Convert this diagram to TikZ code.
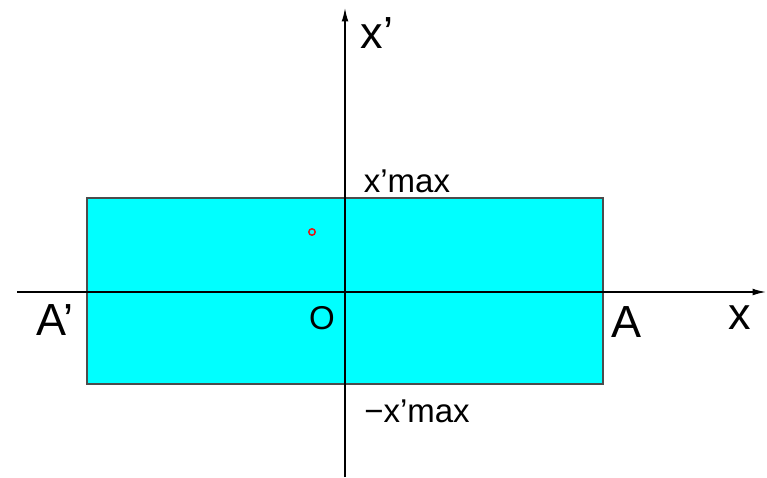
\documentclass[tikz,border=0pt]{standalone}
\usepackage{fontspec}
\setmainfont{Liberation Sans}
\usetikzlibrary{arrows.meta}
\definecolor{boxcyan}{RGB}{0,255,255}
\definecolor{dotred}{RGB}{230,20,20}

\begin{document}
\begin{tikzpicture}[
x=0.75pt, y=-0.75pt,
axis/.style={line width=1pt, ->},
big/.style={font=\fontsize{33.75}{40}\selectfont, inner sep=0pt},
small/.style={font=\fontsize{24.75}{30}\selectfont, inner sep=0pt},
>={Latex[length=10pt, width=5pt]}
]
\useasboundingbox (0,0) rectangle (767,478);
\fill[boxcyan, draw=black!70, line width=0.8pt] (87,198) rectangle (603,384);

\coordinate (xleft) at (17,292);
\coordinate (xright) at (766,292);
\coordinate (ybottom) at (345,477);
\coordinate (ytop) at (345,8);
\draw[axis] (xleft) -- (xright);
\draw[axis] (ybottom) -- (ytop);

\draw[dotred, line width=1.1pt] (312,232) circle (2.4pt);

\node[big] (xprime) at (377,33) {x'};
\node[small] (xmax) at (407,181) {x'max};
\node[big] (Aprime) at (55,320) {A'};
\node[small] (origin) at (322,318) {O};
\node[big] (A) at (626,322) {A};
\node[big] (xlabel) at (740,318) {x};
\node[small] (xmin) at (417,411) {−x'max};
\end{tikzpicture}
\end{document}
